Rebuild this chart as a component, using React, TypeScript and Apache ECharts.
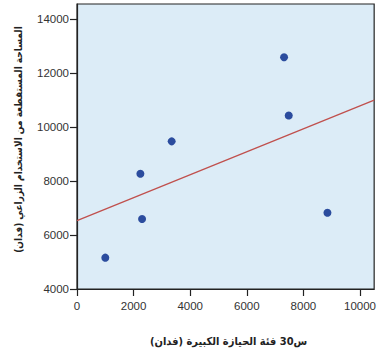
import React, { useEffect, useRef } from "react";
import * as echarts from "echarts";

const xValues = [1000, 2240, 2300, 3345, 7317, 7481, 8850];
const yValues = [5160, 8264, 6590, 9465, 12576, 10420, 6825];
const fitLine = [
  [0, 6530],
  [10500, 10990],
];
const xTicks = [0, 2000, 4000, 6000, 8000, 10000];
const yTicks = [4000, 6000, 8000, 10000, 12000, 14000];
const xTitle = "س30 فئة الحيازة الكبيرة (فدان)";
const yTitle = "المساحة المستقطعة من الاستخدام الزراعي (فدان)";

export default function App() {
  const ref = useRef<HTMLDivElement>(null);
  useEffect(() => {
    if (!ref.current) return;
    const chart = echarts.init(ref.current, undefined, { renderer: "svg" });
    const axisCommon = {
      axisLine: { show: true, lineStyle: { color: "#222", width: 1.2 } },
      axisTick: { show: true, length: 7, lineStyle: { color: "#222", width: 1.2 } },
      splitLine: { show: false },
    };
    const fmt = (v: number) => String(v);
    chart.setOption({
      animation: false,
      grid: {
        left: 77,
        top: 4,
        right: 1,
        bottom: 66,
        show: true,
        backgroundColor: "#dcecf7",
        borderColor: "#222",
        borderWidth: 1.2,
      },
      xAxis: {
        type: "value",
        min: 0,
        max: 10500,
        interval: 2000,
        ...axisCommon,
        axisTick: { ...axisCommon.axisTick, customValues: xTicks },
        axisLabel: {
          customValues: xTicks,
          formatter: fmt,
          margin: 11,
          fontFamily: "Liberation Sans",
          fontSize: 11.5,
          color: "#333",
        },
        name: xTitle,
        nameLocation: "middle",
        nameGap: 47,
        nameTextStyle: {
          fontFamily: "DejaVu Sans Condensed",
          fontWeight: "bold",
          fontSize: 11,
          color: "#222",
          padding: [0, 0, 0, 6],
        },
      },
      yAxis: {
        type: "value",
        min: 4000,
        max: 14550,
        interval: 2000,
        ...axisCommon,
        axisTick: { ...axisCommon.axisTick, customValues: yTicks },
        axisLabel: {
          customValues: yTicks,
          formatter: fmt,
          margin: 8,
          fontFamily: "Liberation Sans",
          fontSize: 11.5,
          color: "#333",
        },
        name: yTitle,
        nameLocation: "middle",
        nameRotate: 90,
        nameGap: 54,
        nameTextStyle: {
          fontFamily: "DejaVu Sans Condensed",
          fontWeight: "bold",
          fontSize: 10,
          color: "#222",
          padding: [0, 0, 0, 14],
        },
      },
      series: [
        {
          type: "line",
          data: fitLine,
          symbol: "none",
          lineStyle: { color: "#c0504d", width: 1.3 },
          z: 2,
        },
        {
          type: "scatter",
          data: xValues.map((x, i) => [x, yValues[i]]),
          symbolSize: 8,
          itemStyle: { color: "#2b4c9e", opacity: 1 },
          z: 3,
        },
      ],
    });
    return () => chart.dispose();
  }, []);
  return (
    <div
      ref={ref}
      style={{ position: "fixed", left: 0, top: 0, width: 379, height: 355, background: "#fff" }}
    />
  );
}
